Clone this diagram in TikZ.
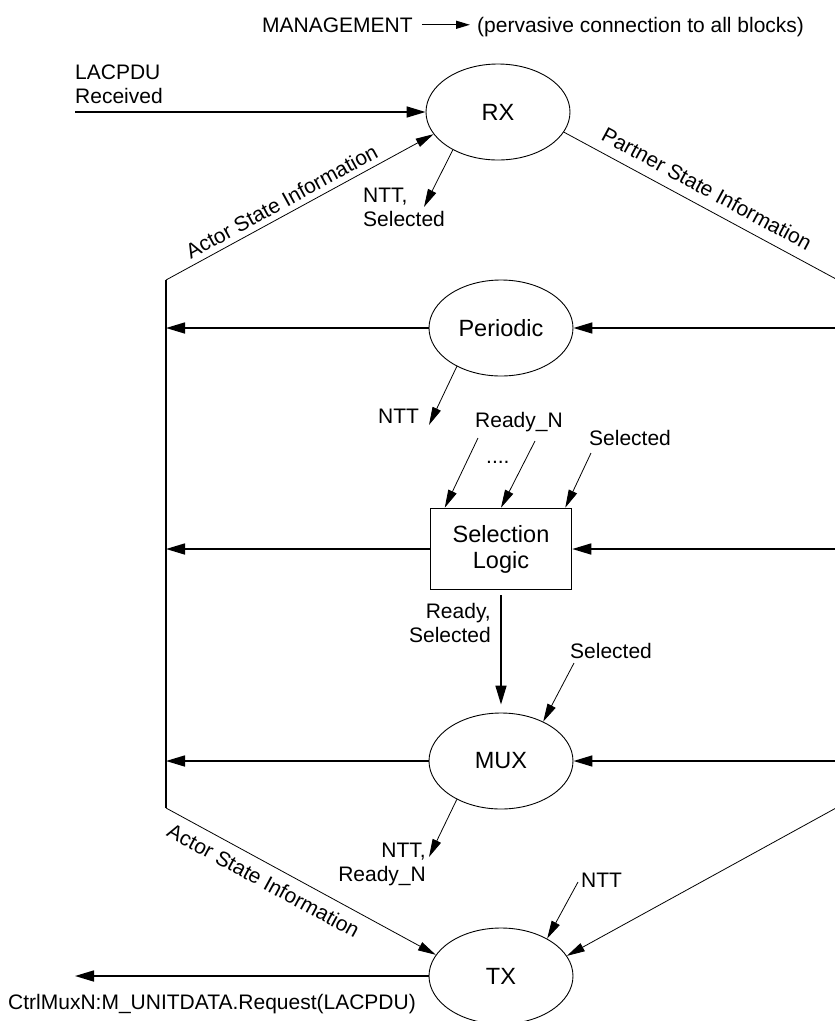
\documentclass[tikz,border=0pt]{standalone}
\usepackage{fontspec}
\setmainfont{Liberation Sans}
\usepackage{tikz}
\usetikzlibrary{shapes.geometric, arrows.meta, positioning}
\tikzset{
  state/.style={ellipse, draw, line width=0.9pt, font=\fontsize{23.5}{26}\selectfont,
    minimum width=144pt, minimum height=96pt, inner sep=0pt},
  logic/.style={rectangle, draw, line width=1.5pt, align=center, font=\fontsize{23.5}{26}\selectfont,
    minimum width=141pt, minimum height=81pt, inner sep=0pt},
  lbl/.style={inner sep=0pt},
  arrow/.style={-{Triangle[length=19pt,width=11pt]}, line width=1.6pt},
  sarrow/.style={-{Triangle[length=18pt,width=9pt]}, line width=0.8pt},
  line/.style={line width=0.8pt},
  bus/.style={line width=1.6pt}
}

\begin{document}
\begin{tikzpicture}[x=1pt, y=-1pt, every node/.style={font=\fontsize{21}{24}\selectfont}]
  \useasboundingbox (0,0) rectangle (835,1021);

  % Management note
  \node[lbl, anchor=base west] (mgmt) at (262,32) {MANAGEMENT};
  \node[lbl, anchor=base west] (perv) at (477,32) {(pervasive connection to all blocks)};
  \draw[-{Triangle[length=14pt,width=8pt]}, line width=1.4pt, shorten <=9pt, shorten >=7pt]
    (mgmt.east) -- (mgmt.east -| perv.west);

  % State machines
  \node[state] (rx) at (498,112) {RX};
  \node[state] (periodic) at (501,328) {Periodic};
  \node[logic] (sel) at (501,549) {Selection\\Logic};
  \node[state] (mux) at (501,761) {MUX};
  \node[state] (tx) at (501,976) {TX};

  % Bus corners
  \coordinate (actTop) at (166,280);
  \coordinate (actBot) at (166,808);
  \coordinate (prtTop) at (836,279);
  \coordinate (prtBot) at (836,808);
  \draw[bus] (actTop) -- (actBot);
  \draw[bus] (prtTop) -- (prtBot);

  % LACPDU in
  \node[lbl, anchor=north west, align=left] (lacpdu) at (75,65) {LACPDU\\Received};
  \coordinate (lacIn) at (75,112);
  \draw[arrow] (lacIn) -- (rx);

  % Actor / Partner state information
  \draw[sarrow] (actTop) -- node[sloped, above, pos=0.456, inner sep=5.5pt] {Actor State Information} (rx.199);
  \draw[line] (rx.343) -- node[sloped, above, pos=0.494, inner sep=10pt] {Partner State Information} (prtTop);
  \draw[sarrow] (actBot) -- node[sloped, below, pos=0.392, inner sep=9pt] {Actor State Information} (tx.162);
  \draw[sarrow] (prtBot) -- (tx.17);

  % Horizontal connections
  \draw[arrow] (periodic) -- (periodic -| actTop);
  \draw[arrow] (periodic -| prtTop) -- (periodic);
  \draw[arrow] (sel) -- (sel -| actTop);
  \draw[arrow] (sel -| prtTop) -- (sel);
  \draw[arrow] (mux) -- (mux -| actTop);
  \draw[arrow] (mux -| prtTop) -- (mux);

  % RX outputs
  \coordinate (rxNtt) at (424,207);
  \draw[sarrow] (rx.220) -- (rxNtt);
  \node[lbl, anchor=north west, align=left] (nttSel) at (363,188) {NTT,\\Selected};

  % Periodic outputs
  \coordinate (perNtt) at (429,425);
  \draw[sarrow] (periodic.221) -- (perNtt);
  \node[lbl, anchor=base west] (ntt) at (378,423) {NTT};

  % Selection Logic inputs
  \node[lbl, anchor=base west] (readyN) at (475,427) {Ready\_N};
  \node[lbl, anchor=base west] (dots) at (486,463) {....};
  \node[lbl, anchor=base west] (selLbl) at (589,445) {Selected};
  \coordinate (rdyA) at (478,438);
  \coordinate (rdyB) at (535,441);
  \coordinate (selIn) at (591,453);
  \draw[sarrow] (rdyA) -- ([xshift=15pt]sel.north west);
  \draw[sarrow] (rdyB) -- (sel.north);
  \draw[sarrow] (selIn) -- ([xshift=-7pt]sel.north east);

  % Selection Logic to MUX
  \draw[arrow, shorten <=5pt, shorten >=8pt] (sel) -- (mux);
  \node[lbl, anchor=north east, align=right] (rdySel) at (491,603) {Ready,\\Selected};

  % MUX inputs and outputs
  \node[lbl, anchor=base west] (muxSelLbl) at (570,658) {Selected};
  \coordinate (muxSelIn) at (574,663);
  \draw[sarrow] (muxSelIn) -- (mux.43);
  \coordinate (muxNtt) at (429,857);
  \draw[sarrow] (mux.221) -- (muxNtt);
  \node[lbl, anchor=north east, align=right] (nttRdy) at (426,843) {NTT,\\Ready\_N};

  % TX
  \node[lbl, anchor=base west] (txNttLbl) at (581,887) {NTT};
  \coordinate (txNttIn) at (578,882);
  \draw[sarrow] (txNttIn) -- (tx.39);
  \coordinate (txOut) at (75,976);
  \draw[arrow] (tx) -- (txOut);
  \node[lbl, anchor=base west] (ctrl) at (8,1009) {CtrlMuxN:M\_UNITDATA.Request(LACPDU)};
\end{tikzpicture}
\end{document}
